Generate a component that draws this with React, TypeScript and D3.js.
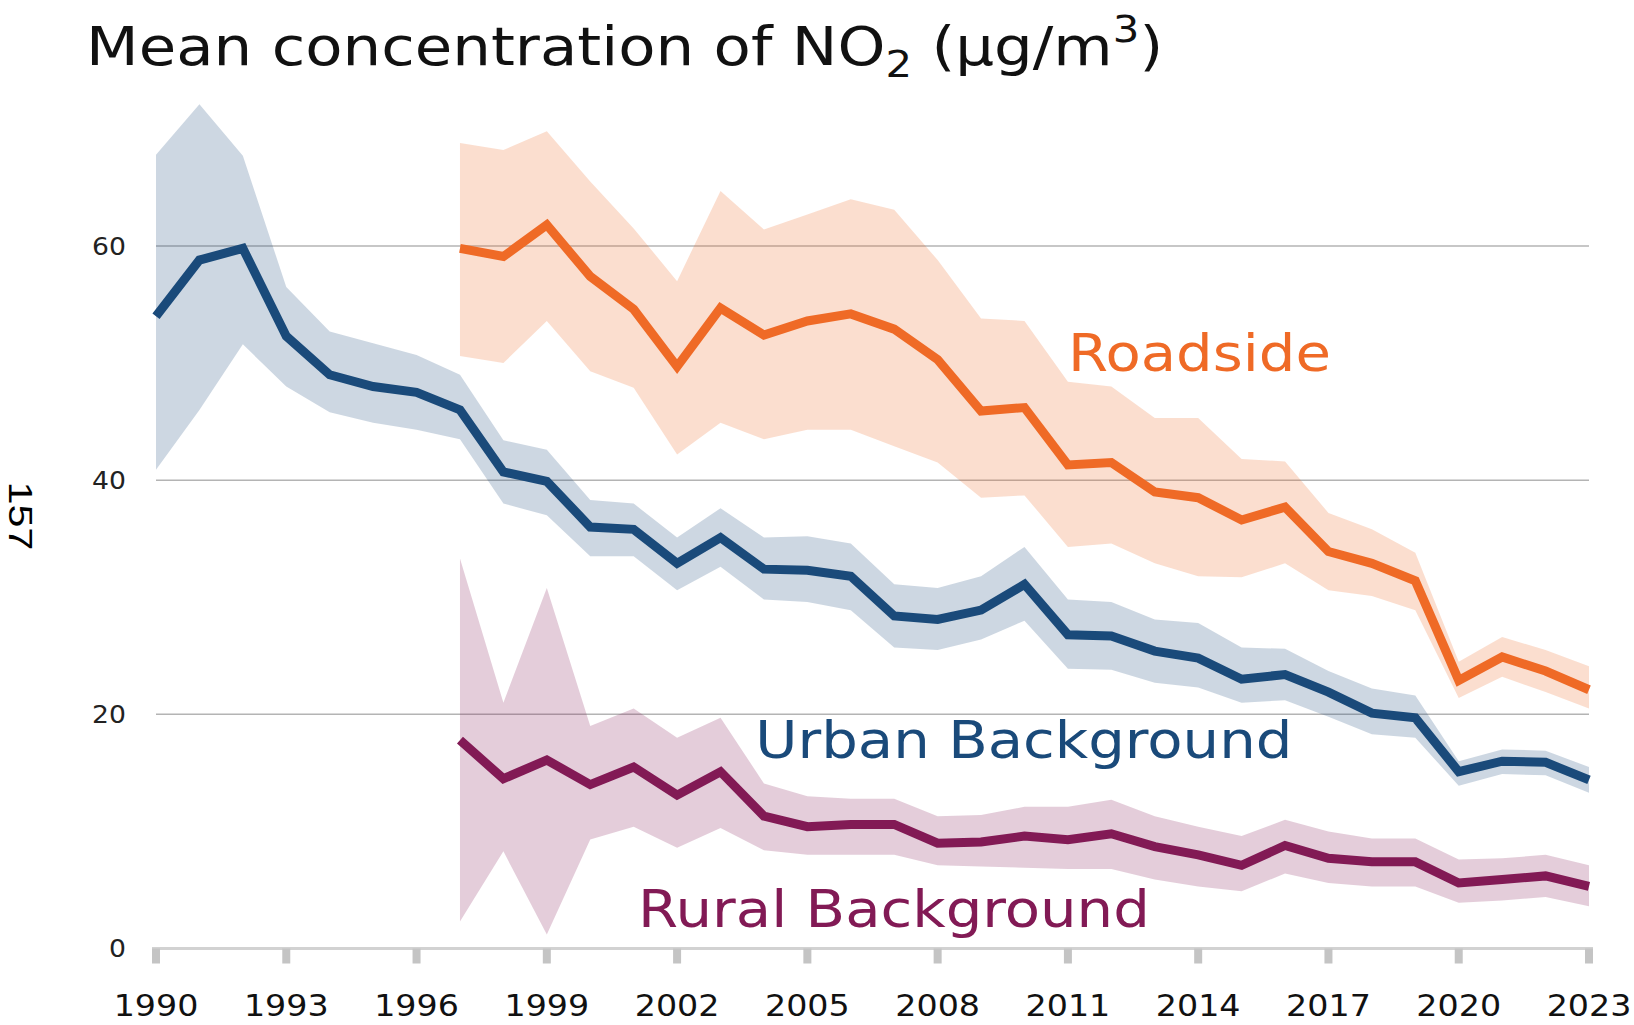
import React from 'react';
import * as d3 from 'd3';

// years on the x axis
const years = [
  1990, 1991, 1992, 1993, 1994, 1995, 1996, 1997, 1998, 1999, 2000, 2001,
  2002, 2003, 2004, 2005, 2006, 2007, 2008, 2009, 2010, 2011, 2012, 2013,
  2014, 2015, 2016, 2017, 2018, 2019, 2020, 2021, 2022, 2023,
];
// roadside and rural series start in 1997
const laterYears = years.slice(7);

const xTicks = [1990, 1993, 1996, 1999, 2002, 2005, 2008, 2011, 2014, 2017, 2020, 2023];
const yTicks = [0, 20, 40, 60];

const urbanMean = [
  54.0, 58.8, 59.8, 52.3, 49.0, 48.0, 47.5, 46.0, 40.7, 39.9, 36.0, 35.8,
  32.9, 35.1, 32.4, 32.3, 31.8, 28.4, 28.1, 28.9, 31.1, 26.8, 26.7, 25.4,
  24.8, 23.0, 23.4, 21.9, 20.1, 19.7, 15.1, 16.0, 15.9, 14.4,
];
const urbanHigh = [
  67.8, 72.1, 67.7, 56.5, 52.7, 51.7, 50.7, 49.0, 43.4, 42.6, 38.3, 38.0,
  35.1, 37.6, 35.1, 35.2, 34.6, 31.1, 30.8, 31.8, 34.3, 29.8, 29.6, 28.1,
  27.8, 25.7, 25.6, 23.7, 22.2, 21.6, 16.0, 17.0, 16.9, 15.5,
];
const urbanLow = [
  40.9, 46.0, 51.6, 48.0, 45.8, 44.9, 44.3, 43.5, 38.0, 37.0, 33.5, 33.5,
  30.6, 32.6, 29.8, 29.6, 28.9, 25.7, 25.5, 26.4, 28.0, 23.9, 23.8, 22.7,
  22.3, 21.0, 21.2, 19.8, 18.3, 18.0, 13.9, 14.9, 14.8, 13.3,
];

const roadMean = [
  59.8, 59.1, 61.8, 57.4, 54.6, 49.7, 54.7, 52.4, 53.6, 54.2, 52.9, 50.3,
  45.9, 46.2, 41.3, 41.5, 39.0, 38.5, 36.6, 37.7, 33.9, 32.9, 31.4, 22.9,
  24.9, 23.7, 22.1,
];
const roadHigh = [
  68.8, 68.2, 69.8, 65.5, 61.5, 57.0, 64.7, 61.4, 62.7, 64.0, 63.1, 58.8,
  53.8, 53.6, 48.4, 48.0, 45.3, 45.3, 41.8, 41.6, 37.2, 35.8, 33.8, 24.5,
  26.6, 25.5, 24.1,
];
const roadLow = [
  50.6, 50.0, 53.6, 49.3, 47.9, 42.2, 44.9, 43.5, 44.3, 44.3, 42.9, 41.5,
  38.5, 38.7, 34.3, 34.6, 32.9, 31.8, 31.7, 32.9, 30.6, 30.1, 28.9, 21.4,
  23.2, 21.9, 20.5,
];

const ruralMean = [
  17.8, 14.5, 16.1, 14.0, 15.5, 13.1, 15.1, 11.3, 10.4, 10.6, 10.6, 9.0,
  9.1, 9.6, 9.3, 9.8, 8.7, 8.0, 7.1, 8.8, 7.7, 7.4, 7.4, 5.6,
  5.9, 6.2, 5.3,
];
const ruralHigh = [
  33.3, 21.0, 30.8, 19.0, 20.5, 18.0, 19.7, 14.1, 13.0, 12.8, 12.8, 11.3,
  11.4, 12.1, 12.1, 12.7, 11.3, 10.4, 9.6, 11.0, 10.0, 9.4, 9.4, 7.6,
  7.7, 8.0, 7.1,
];
const ruralLow = [
  2.3, 8.3, 1.2, 9.3, 10.4, 8.6, 10.3, 8.4, 8.0, 8.0, 8.0, 7.1,
  7.0, 6.9, 6.8, 6.8, 5.9, 5.3, 4.9, 6.4, 5.6, 5.3, 5.3, 3.9,
  4.1, 4.4, 3.6,
];

const series = [
  { name: 'Urban Background', color: '#1a4a7a', yrs: years, mean: urbanMean, hi: urbanHigh, lo: urbanLow, lx: 2003.8, ly: 16.3 },
  { name: 'Roadside', color: '#ef6a26', yrs: laterYears, mean: roadMean, hi: roadHigh, lo: roadLow, lx: 2011.0, ly: 49.3 },
  { name: 'Rural Background', color: '#821a55', yrs: laterYears, mean: ruralMean, hi: ruralHigh, lo: ruralLow, lx: 2001.1, ly: 1.8 },
];

const W = 1634;
const H = 1025;
const font = '"DejaVu Sans", sans-serif';
// the original picture is a little stretched sideways, text included
const stretch = 1.11;

function App() {
  const x = d3.scaleLinear().domain([1990, 2023]).range([156, 1589]);
  const y = d3.scaleLinear().domain([0, 60]).range([948.5, 246]);

  const band = (s: any) =>
    d3
      .area<number>()
      .x((d, i) => x(s.yrs[i]))
      .y0((d, i) => y(s.lo[i]))
      .y1((d, i) => y(s.hi[i]))(s.mean);

  const meanLine = (s: any) =>
    d3
      .line<number>()
      .x((d, i) => x(s.yrs[i]))
      .y((d) => y(d))(s.mean);

  return (
    <svg width={W} height={H} style={{ display: 'block', background: '#fff' }}>
      <style>{`body{margin:0}`}</style>

      <text transform={`translate(86,65) scale(1.13,1)`} fontFamily={font} fontSize={54} fill="#111">
        Mean concentration of NO
        <tspan fontSize={37} dy={12}>2</tspan>
        <tspan dy={-12}> (µg/m</tspan>
        <tspan fontSize={37} dy={-23}>3</tspan>
        <tspan dy={23}>)</tspan>
      </text>

      <text
        transform="translate(20,516) rotate(90) scale(1.25,1)"
        textAnchor="middle"
        dominantBaseline="central"
        fontFamily='"Liberation Sans", Arial, sans-serif'
        fontSize={33}
        fill="#000"
      >
        157
      </text>

      {yTicks.filter((t) => t > 0).map((t) => (
        <line key={t} x1={x(1990)} x2={x(2023)} y1={y(t)} y2={y(t)} stroke="#b4b4b4" strokeWidth={1.5} />
      ))}
      {yTicks.map((t) => (
        <text
          key={t}
          transform={`translate(126,${y(t)}) scale(${stretch},1)`}
          textAnchor="end"
          dominantBaseline="central"
          fontFamily={font}
          fontSize={24}
          fill="#222"
        >
          {t}
        </text>
      ))}

      {series.map((s) => (
        <path key={s.name + 'band'} d={band(s) || ''} fill={s.color} fillOpacity={0.22} />
      ))}

      <line x1={x(1990) - 4} x2={x(2023) + 4} y1={y(0)} y2={y(0)} stroke="#d2d2d2" strokeWidth={3} />
      {xTicks.map((t) => (
        <g key={t}>
          <rect x={x(t) - 4} y={y(0)} width={8} height={15} fill="#c4c4c4" />
          <text
            transform={`translate(${x(t)},1016) scale(${stretch},1)`}
            textAnchor="middle"
            fontFamily={font}
            fontSize={30}
            fill="#111"
          >
            {t}
          </text>
        </g>
      ))}

      {series.map((s) => (
        <path key={s.name + 'line'} d={meanLine(s) || ''} fill="none" stroke={s.color} strokeWidth={9} />
      ))}

      {series.map((s) => (
        <text
          key={s.name + 'label'}
          transform={`translate(${x(s.lx)},${y(s.ly)}) scale(${stretch},1)`}
          fontFamily={font}
          fontSize={52}
          fill={s.color}
        >
          {s.name}
        </text>
      ))}
    </svg>
  );
}

export default App;
